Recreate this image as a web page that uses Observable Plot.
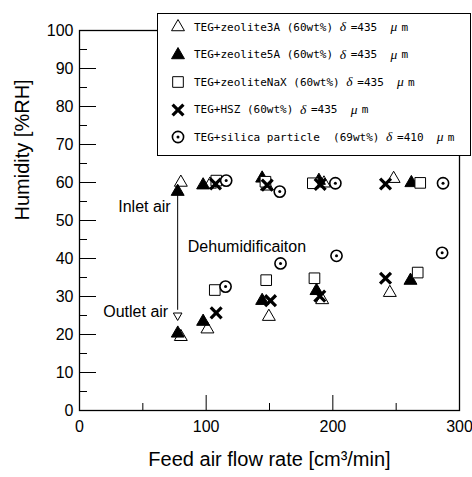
<!DOCTYPE html>
<html><head><meta charset="utf-8">
<script src="https://cdn.jsdelivr.net/npm/d3@7"></script>
<script src="https://cdn.jsdelivr.net/npm/@observablehq/plot@0.6"></script>
<style>
body{margin:0;background:#fff;}
#wrap{position:relative;width:472px;height:477px;overflow:hidden;}
#legend{position:absolute;left:157px;top:13px;width:312px;height:141px;border:1px solid #000;background:#fff;font-family:"DejaVu Sans Mono",monospace;font-size:11px;color:#000;}
.row{position:absolute;left:0;height:20px;display:flex;align-items:center;white-space:pre;}
.row svg{margin-left:12px;margin-right:8px;}
.g{display:inline-block;width:11px;font-style:italic;font-family:"Liberation Serif",serif;font-size:13.5px;}
</style></head><body><div id="wrap"><div id="legend"></div></div>
<script>
// ---- data ----
const seriesNames = ["TEG+zeolite3A (60wt%)", "TEG+zeolite5A (60wt%)", "TEG+zeoliteNaX (60wt%)", "TEG+HSZ (60wt%)", "TEG+silica particle  (69wt%)"];
const seriesDelta = ["435", "435", "435", "435", "410"];

const flow3A = [80, 103, 148, 193, 248, 80, 101, 149.5, 191.6, 245];
const hum3A  = [60, 59.5, 59, 59.8, 61, 19.4, 21.4, 24.7, 29.1, 31];

const flow5A = [77.5, 97.6, 144.2, 189, 262, 77.6, 97.6, 144.2, 187.1, 261.3];
const hum5A  = [57.6, 59.3, 61.1, 60.5, 59.9, 20.3, 23.4, 28.9, 31.5, 34.2];

const flowNaX = [108, 146.8, 184.2, 269, 106.8, 147.4, 185.5, 267];
const humNaX  = [60.5, 60.2, 59.8, 59.9, 31.7, 34.3, 34.8, 36.3];

const flowHSZ = [107.4, 148.2, 190, 241.6, 107.9, 150.8, 189.7, 241.6];
const humHSZ  = [59.6, 59.3, 59.5, 59.6, 25.7, 28.9, 30.1, 34.8];

const flowSilica = [115.8, 158.1, 202, 287, 115.3, 158.7, 202.9, 286.3];
const humSilica  = [60.5, 57.6, 59.8, 59.8, 32.6, 38.7, 40.7, 41.5];

const xLabelTicks = [0, 100, 200, 300];
const xMajorTicks = [100, 200];
const xMinorTicks = [50, 150, 250];
const yMajorTicks = [0, 10, 20, 30, 40, 50, 60, 70, 80, 90, 100];
const yMinorTicks = [5, 15, 25, 35, 45, 55, 65, 75, 85, 95];

const annotationText = ["Inlet air", "Outlet air", "Dehumidificaiton"];
const annotationX = [72, 70, 85.5];
const annotationY = [53.5, 26, 43];
const annotationAnchor = ["end", "end", "start"];

const arrowX = [77.5];
const arrowFrom = [57];
const arrowTo = [26.5];
const arrowHeadY = [25];

// ---- build tables ----
const zip = (xs, ys) => xs.map((x, i) => ({x, y: ys[i]}));
const d3A = zip(flow3A, hum3A), d5A = zip(flow5A, hum5A), dNaX = zip(flowNaX, humNaX),
      dHSZ = zip(flowHSZ, humHSZ), dSil = zip(flowSilica, humSilica);
const annotations = annotationText.map((t, i) => ({t, x: annotationX[i], y: annotationY[i], a: annotationAnchor[i]}));
const arrow = arrowX.map((x, i) => ({x, y1: arrowFrom[i], y2: arrowTo[i], yh: arrowHeadY[i]}));

const R = {tri: 4.8, sq: 6, times: 5, circ: 5.6};
const W = 472, H = 477, mL = 79, mR = 13, mT = 30, mB = 67;
const fw = W - mL - mR, fh = H - mT - mB;

const plot = Plot.plot({
  width: W, height: H,
  marginLeft: mL, marginRight: mR, marginTop: mT, marginBottom: mB,
  x: {domain: [0, 300], axis: null},
  y: {domain: [0, 100], axis: null},
  style: {fontFamily: "'Liberation Sans', Arial, sans-serif", fontSize: "16px", color: "black", background: "white", overflow: "visible"},
  marks: [
    // inward ticks
    Plot.ruleY(yMinorTicks, {y: d => d, insetRight: fw - 8, stroke: "black"}),
    Plot.ruleY(yMajorTicks, {y: d => d, insetRight: fw - 17, stroke: "black"}),
    Plot.ruleX(xMinorTicks, {x: d => d, insetTop: fh - 7, stroke: "black"}),
    Plot.ruleX(xMajorTicks, {x: d => d, insetTop: fh - 15, stroke: "black"}),
    // tick labels
    Plot.text(yMajorTicks, {y: d => d, text: d => String(d), frameAnchor: "left", textAnchor: "end", dx: -6, fontSize: 16}),
    Plot.text(xLabelTicks, {x: d => d, text: d => String(d), frameAnchor: "bottom", dy: 21, fontSize: 16}),
    Plot.frame({stroke: "black", strokeWidth: 1.3}),
    Plot.text(["Humidity [%RH]"], {frameAnchor: "left", dx: -57, rotate: -90, fontSize: 20}),
    Plot.text(["Feed air flow rate [cm³/min]"], {frameAnchor: "bottom", dy: 55, fontSize: 20}),
    Plot.link(arrow, {x1: "x", x2: "x", y1: "y1", y2: "y2", stroke: "black", strokeWidth: 1}),
    Plot.dot(arrow, {x: "x", y: "yh", symbol: "triangle", rotate: 180, r: 3.2, fill: "white", stroke: "black", strokeWidth: 1}),
    Plot.dot(d3A, {x: "x", y: "y", symbol: "triangle", r: R.tri, fill: "white", stroke: "black", strokeWidth: 1}),
    Plot.dot(d5A, {x: "x", y: "y", symbol: "triangle", r: R.tri, fill: "black", stroke: "black", strokeWidth: 1}),
    Plot.dot(dNaX, {x: "x", y: "y", symbol: "square", r: R.sq, fill: "white", stroke: "black", strokeWidth: 1}),
    Plot.dot(dHSZ, {x: "x", y: "y", symbol: "times", r: R.times, stroke: "black", strokeWidth: 3.2}),
    Plot.dot(dSil, {x: "x", y: "y", symbol: "circle", r: R.circ, fill: "white", stroke: "black", strokeWidth: 1.6}),
    Plot.dot(dSil, {x: "x", y: "y", symbol: "circle", r: 1.5, fill: "black", stroke: null}),
    Plot.text(annotations, {filter: d => d.a === "end", x: "x", y: "y", text: "t", textAnchor: "end", fontSize: 16}),
    Plot.text(annotations, {filter: d => d.a === "start", x: "x", y: "y", text: "t", textAnchor: "start", fontSize: 16})
  ]
});
const wrap = document.getElementById("wrap");
wrap.insertBefore(plot, wrap.firstChild);

// ---- legend (overlaid box, top-right) ----
const legendSymbols = [
  {type: d3.symbolTriangle, r: R.tri, fill: "white", sw: 1},
  {type: d3.symbolTriangle, r: R.tri, fill: "black", sw: 1},
  {type: d3.symbolSquare, r: R.sq, fill: "white", sw: 1},
  {type: d3.symbolTimes, r: R.times, fill: "none", sw: 3.2},
  {type: d3.symbolCircle, r: R.circ, fill: "white", sw: 1.6, dot: true}
];
const legend = document.getElementById("legend");
const rowTops = [3, 30.5, 58, 85.5, 113];
seriesNames.forEach((name, i) => {
  const s = legendSymbols[i];
  const row = document.createElement("div");
  row.className = "row";
  row.style.top = rowTops[i] + "px";
  const path = d3.symbol(s.type, Math.PI * s.r * s.r)();
  row.innerHTML = `<svg width="16" height="16" viewBox="-8 -8 16 16"><path d="${path}" fill="${s.fill}" stroke="black" stroke-width="${s.sw}"/>${s.dot ? '<circle r="1.5" fill="black"/>' : ''}</svg>` +
    `<span>${name} </span><span class="g">δ</span><span>=${seriesDelta[i]}  </span><span class="g">μ</span><span>m</span>`;
  legend.appendChild(row);
});
</script>
</body></html>
